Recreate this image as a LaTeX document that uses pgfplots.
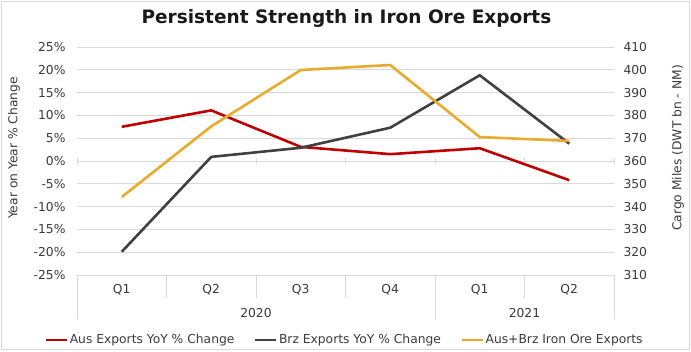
\documentclass[border=0pt]{standalone}
\usepackage{pgfplots}
\pgfplotsset{compat=1.18}
\usepackage{fontspec}
\setmainfont{DejaVu Sans}
\definecolor{ausred}{HTML}{C00000}
\definecolor{brzgray}{HTML}{404040}
\definecolor{oreyel}{HTML}{E9AB2B}
\definecolor{gridc}{HTML}{D9D9D9}
\definecolor{txt}{HTML}{3A3A3A}
\newcommand{\lbl}{\fontsize{12.3}{14}\selectfont}
\begin{document}
\begin{tikzpicture}[x=1pt,y=1pt]
\useasboundingbox (0,0) rectangle (691,351);
\draw[gridc, line width=0.8pt] (1.5,1.5) rectangle (689.5,349.5);
\node[font=\bfseries\fontsize{18.5}{21}\selectfont, text=black!90] at (346.5,333) {Persistent Strength in Iron Ore Exports};
\node[rotate=90, font=\lbl, text=txt] at (14,203) {Year on Year \% Change};
\node[rotate=90, font=\lbl, text=txt] at (678,203) {Cargo Miles (DWT bn - NM)};
\begin{axis}[
  at={(77pt,76pt)}, anchor=south west,
  scale only axis, width=537pt, height=228pt,
  xmin=-0.5, xmax=5.5, ymin=-25, ymax=25,
  axis line style={draw=none},
  major tick length=0pt,
  xtick={0,...,5}, xticklabels={Q1,Q2,Q3,Q4,Q1,Q2},
  xticklabel style={anchor=center, yshift=-15pt, font=\lbl, text=txt},
  ytick={-25,-20,...,25},
  yticklabels={-25\%,-20\%,-15\%,-10\%,-5\%,0\%,5\%,10\%,15\%,20\%,25\%},
  yticklabel style={font=\lbl, text=txt, xshift=-8pt},
  ymajorgrids, grid style={gridc, line width=0.8pt},
  clip=false,
  legend columns=3,
  legend style={at={(0.498,-0.285)}, anchor=center, draw=none, fill=none,
    font=\lbl, text=txt, inner xsep=0pt,
    nodes={inner xsep=1.5pt},
    /tikz/every even column/.append style={column sep=18pt}},
  legend image code/.code={\draw[#1] (0pt,0pt) -- (21pt,0pt);},
]
\pgfplotsinvokeforeach{0.5,1.5,2.5,4.5}{\draw[gridc, line width=0.8pt] (axis cs:#1,-25) -- ++(0pt,-23pt);}
\pgfplotsinvokeforeach{-0.5,3.5,5.5}{\draw[gridc, line width=0.8pt] (axis cs:#1,-25) -- ++(0pt,-44pt);}
\pgfplotsinvokeforeach{-0.5,0.5,1.5,2.5,3.5,4.5,5.5}{\draw[gridc, line width=0.8pt] (axis cs:#1,0) ++(0pt,-3pt) -- ++(0pt,6pt);}
\node[font=\lbl, text=txt] at (axis cs:1.5,-25) [yshift=-37.7pt] {2020};
\node[font=\lbl, text=txt] at (axis cs:4.5,-25) [yshift=-37.7pt] {2021};
\addplot[ausred, line width=2.6pt] coordinates {(0,7.5) (1,11.1) (2,3.1) (3,1.5) (4,2.8) (5,-4.2)};
\addlegendentry{Aus Exports YoY \% Change}
\addplot[brzgray, line width=2.6pt] coordinates {(0,-19.9) (1,0.9) (2,2.9) (3,7.3) (4,18.8) (5,3.8)};
\addlegendentry{Brz Exports YoY \% Change}
\addlegendimage{oreyel, line width=2.6pt}
\addlegendentry{Aus+Brz Iron Ore Exports}
\end{axis}
\begin{axis}[
  at={(77pt,76pt)}, anchor=south west,
  scale only axis, width=537pt, height=228pt,
  xmin=-0.5, xmax=5.5, ymin=310, ymax=410,
  axis line style={draw=none},
  major tick length=0pt,
  axis y line*=right, hide x axis,
  ytick={310,320,...,410},
  yticklabel style={font=\lbl, text=txt, xshift=6pt},
  /pgf/number format/assume math mode=true,
]
\addplot[oreyel, line width=2.6pt] coordinates {(0,344.2) (1,375.2) (2,399.9) (3,402.1) (4,370.5) (5,368.8)};
\end{axis}
\end{tikzpicture}
\end{document}
